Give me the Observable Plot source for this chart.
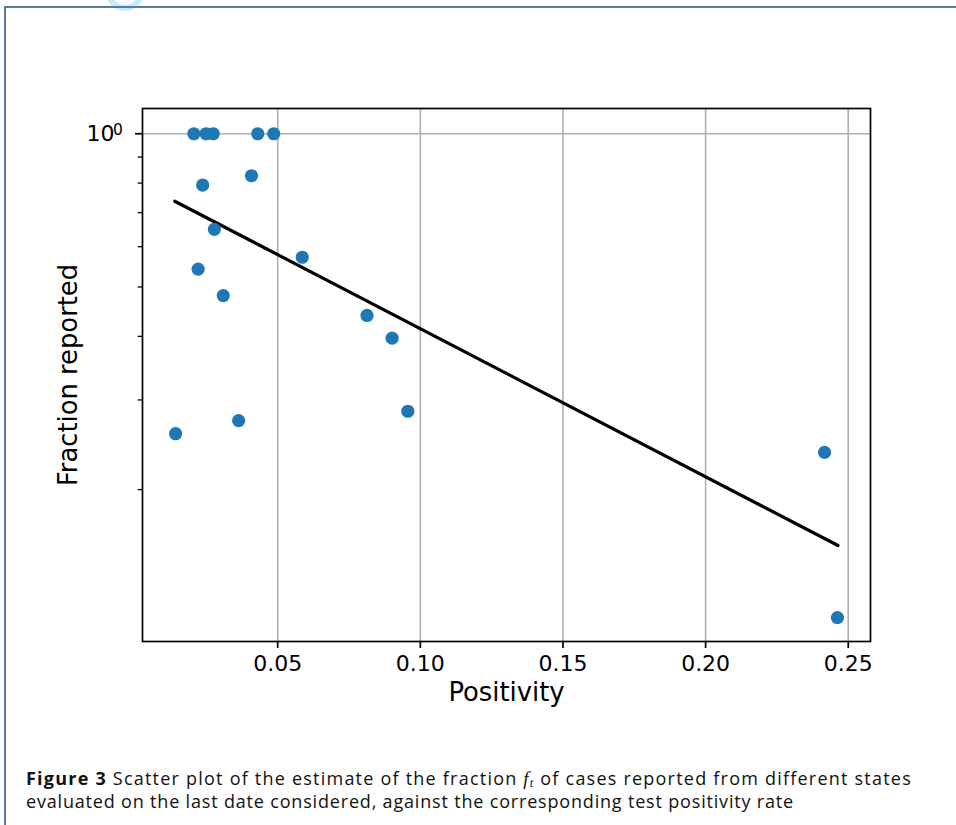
<!DOCTYPE html>
<html>
<head>
<meta charset="utf-8">
<script src="https://cdn.jsdelivr.net/npm/d3@7"></script>
<script src="https://cdn.jsdelivr.net/npm/@observablehq/plot@0.6"></script>
<style>
  html, body { margin: 0; padding: 0; background: #fff; width: 956px; height: 825px; overflow: hidden; }
  #page { position: absolute; left: 4px; top: 6px; width: 960px; height: 830px;
          border-top: 2px solid #5b7ba0; border-left: 2px solid #5b7ba0; box-sizing: border-box; }
  #chart { position: absolute; left: 0; top: 0; }
  #caption { position: absolute; left: 26px; top: 767px; width: 930px; white-space: nowrap;
             font-family: "Open Sans", "Noto Sans", sans-serif; font-size: 18px; line-height: 23px; color: #111; }
  #caption b { font-weight: bold; }
  .math { font-family: "Liberation Serif", serif; font-style: italic; font-size: 19px; }
  .math sub { font-size: 12px; vertical-align: baseline; position: relative; top: 2px; line-height: 0; }
  #mark { position: absolute; left: 0; top: 0; }
</style>
</head>
<body>
<svg id="mark" width="200" height="20"><circle cx="125" cy="-8" r="16" fill="none" stroke="#c6ecfa" stroke-width="6"/></svg>
<div id="page"></div>
<div id="chart"></div>
<div id="caption"><span id="l1"><b>Figure 3</b> Scatter plot of the estimate of the fraction <span class="math">f<sub>t</sub></span> of cases reported from different states</span><br><span id="l2">evaluated on the last date considered, against the corresponding test positivity rate</span></div>
<script>
// Data
const positivity = [0.0206, 0.0249, 0.0274, 0.0430, 0.0486, 0.0237, 0.0408, 0.0278, 0.0586, 0.0221, 0.0309, 0.0142, 0.0363, 0.0813, 0.0901, 0.0956, 0.2417, 0.2462];
const fraction   = [1.0, 1.0, 1.0, 1.0, 1.0, 0.793, 0.827, 0.649, 0.572, 0.542, 0.481, 0.2575, 0.2733, 0.4396, 0.3967, 0.285, 0.2366, 0.1121];
const fitPositivity = [0.0139, 0.2464];
const fitFraction   = [0.737, 0.1553];
const xTicks = [0.05, 0.10, 0.15, 0.20, 0.25];
const yMajorTicks = [1];
const yMajorBase = ["10"];
const yMajorExponent = ["0"];
const yMinorTicks = [0.2, 0.3, 0.4, 0.5, 0.6, 0.7, 0.8, 0.9];
const xLabel = "Positivity";
const yLabel = "Fraction reported";

const points = positivity.map((p, i) => ({p, f: fraction[i]}));
const fit = fitPositivity.map((p, i) => ({p, f: fitFraction[i]}));

const chart = Plot.plot({
  width: 956,
  height: 740,
  marginLeft: 142,
  marginRight: 86,
  marginTop: 108,
  marginBottom: 99,
  style: {fontFamily: "DejaVu Sans", color: "black", background: "transparent"},
  x: {domain: [0.0026, 0.2578]},
  y: {type: "log", domain: [0.1006, 1.121]},
  marks: [
    Plot.gridX(xTicks, {stroke: "#b0b0b0", strokeOpacity: 1, strokeWidth: 1.6}),
    Plot.gridY(yMajorTicks, {stroke: "#b0b0b0", strokeOpacity: 1, strokeWidth: 1.6}),
    Plot.line(fit, {x: "p", y: "f", stroke: "black", strokeWidth: 3.2}),
    Plot.dot(points, {x: "p", y: "f", r: 6.6, fill: "#1f77b4", stroke: null}),
    Plot.frame({stroke: "black", strokeWidth: 1.7}),
    Plot.axisX(xTicks, {tickSize: 7, tickPadding: 7, fontSize: 22, strokeWidth: 1.7,
      tickFormat: d3.format(".2f"), label: null}),
    Plot.axisY(yMajorTicks, {tickSize: 7, tickPadding: 21, fontSize: 22, strokeWidth: 1.7,
      tickFormat: d => yMajorBase[yMajorTicks.indexOf(d)], label: null}),
    Plot.text(yMajorTicks, {y: d => d, text: d => yMajorExponent[yMajorTicks.indexOf(d)],
      frameAnchor: "left", dx: -29.5, dy: 1.5, textAnchor: "start", lineAnchor: "bottom", fontSize: 15.5, fill: "black"}),
    Plot.axisY(yMinorTicks, {tickSize: 4.3, strokeWidth: 1.3, tickFormat: () => "", label: null}),
    Plot.text([xLabel], {frameAnchor: "bottom", dy: 40.7, lineAnchor: "top", fontSize: 25.8, fill: "black"}),
    Plot.text([yLabel], {frameAnchor: "left", dx: -84, rotate: -90, textAnchor: "middle", lineAnchor: "top", fontSize: 25.8, fill: "black"})
  ]
});
document.getElementById("chart").appendChild(chart);

// fit caption line widths to the reference
function fitLine(id, target) {
  const el = document.getElementById(id);
  const w = el.getBoundingClientRect().width;
  const n = el.textContent.length;
  el.style.letterSpacing = ((target - w) / n) + "px";
}
fitLine("l1", 886);
fitLine("l2", 768);
</script>
</body>
</html>
